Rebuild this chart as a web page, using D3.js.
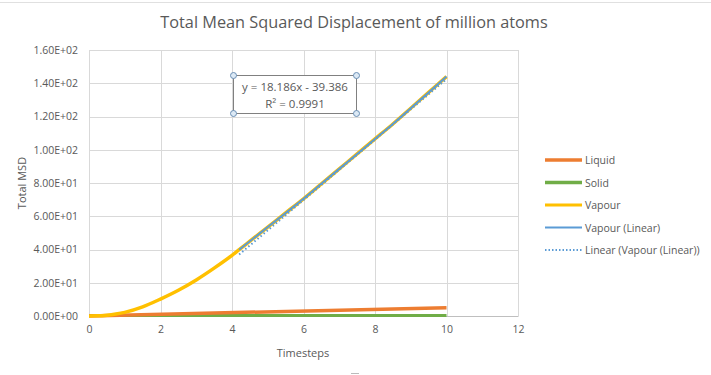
<!DOCTYPE html>
<html><head><meta charset="utf-8">
<script src="https://cdn.jsdelivr.net/npm/d3@7/dist/d3.min.js"></script>
<style>body{margin:0;background:#fff}svg{display:block;font-family:"Open Sans","Noto Sans",sans-serif}</style>
</head><body><svg id="c" width="711" height="375"></svg>
<script>
const title = "Total Mean Squared Displacement of million atoms";
const xTicks = [0,2,4,6,8,10,12];
const yTicks = [0,20,40,60,80,100,120,140,160];
const vapourX = [0,0.25,0.5,0.75,1,1.5,2,2.5,3,3.5,4,4.2,4.5,5,5.5,6,6.5,7,7.5,8,8.5,9,9.5,10];
const vapourY = [0,0.1,0.5,1.2,2.2,5.5,10.2,15.5,21.7,28.8,36.5,39.9,45,53.5,62,70.5,79.5,88.5,97.5,106.5,115.5,125,134.5,144];
const vapLinX = [4.2,4.5,5,5.5,6,6.5,7,7.5,8,8.5,9,9.5,10];
const vapLinY = [39.9,45,53.5,62,70.5,79.5,88.5,97.5,106.5,115.5,125,134.5,144];
const liquidX = [0,10];
const liquidY = [0,5.0];
const solidX = [0,10];
const solidY = [0.3,0.3];
const trendSlope = 18.186, trendIntercept = -39.386, trendR2 = 0.9991;
const trendRange = [4.2,10];
const legendNames = ["Liquid","Solid","Vapour","Vapour (Linear)","Linear (Vapour (Linear))"];

const svg = d3.select("#c");
const x = d3.scaleLinear().domain([0,12]).range([89,518]);
const y = d3.scaleLinear().domain([0,160]).range([316,50]);
const grid = "#d9d9d9", txt = "#595959";

// top border
svg.append("line").attr("x1",0).attr("x2",711).attr("y1",2.5).attr("y2",2.5).attr("stroke","#e0e0e0");

// gridlines
svg.append("g").selectAll("line").data(yTicks).join("line")
  .attr("x1",x(0)).attr("x2",x(12)).attr("y1",d=>Math.round(y(d))+0.5).attr("y2",d=>Math.round(y(d))+0.5)
  .attr("stroke",grid).attr("stroke-width",1);
svg.append("g").selectAll("line").data(xTicks).join("line")
  .attr("y1",y(0)).attr("y2",y(160)).attr("x1",d=>Math.round(x(d))+0.5).attr("x2",d=>Math.round(x(d))+0.5)
  .attr("stroke",grid).attr("stroke-width",1);

// axes tick labels via d3 axes
const fmt = d=> d===0 ? "0.00E+00" : (d/Math.pow(10,Math.floor(Math.log10(d)))).toFixed(2)+"E+"+String(Math.floor(Math.log10(d))).padStart(2,"0");
const ya = svg.append("g").attr("transform",`translate(${x(0)},0)`)
  .call(d3.axisLeft(y).tickValues(yTicks).tickFormat(fmt).tickSize(0).tickPadding(11));
ya.select(".domain").remove();
ya.selectAll("text").attr("fill",txt).style("font-size","10.5px").style("font-family","'Open Sans',sans-serif");
const xa = svg.append("g").attr("transform",`translate(0,${y(0)})`)
  .call(d3.axisBottom(x).tickValues(xTicks).tickFormat(d3.format("d")).tickSize(0).tickPadding(10));
xa.select(".domain").attr("stroke","#bfbfbf");
xa.selectAll("text").attr("fill",txt).style("font-size","10.5px").style("font-family","'Open Sans',sans-serif");

// titles
svg.append("text").attr("x",354).attr("y",28).attr("text-anchor","middle").attr("fill",txt)
  .style("font-size","16.3px").text(title);
svg.append("text").attr("x",303).attr("y",357).attr("text-anchor","middle").attr("fill",txt)
  .style("font-size","11px").text("Timesteps");
svg.append("text").attr("transform","translate(26,183) rotate(-90)").attr("text-anchor","middle").attr("fill",txt)
  .style("font-size","11px").text("Total MSD");

// series
const line = d3.line().x(d=>x(d[0])).y(d=>y(d[1]));
const zip = (a,b)=>a.map((v,i)=>[v,b[i]]);
svg.append("path").datum(zip(solidX,solidY)).attr("d",line).attr("fill","none").attr("stroke","#70AD47").attr("stroke-width",3);
svg.append("path").datum(zip(liquidX,liquidY)).attr("d",line).attr("fill","none").attr("stroke","#ED7D31").attr("stroke-width",3.5);
svg.append("path").datum(zip(vapourX,vapourY)).attr("d",d3.line().curve(d3.curveMonotoneX).x(d=>x(d[0])).y(d=>y(d[1])))
  .attr("fill","none").attr("stroke","#FFC000").attr("stroke-width",3.5);
svg.append("path").datum(zip(vapLinX,vapLinY)).attr("d",d3.line().curve(d3.curveMonotoneX).x(d=>x(d[0])).y(d=>y(d[1])))
  .attr("fill","none").attr("stroke","#5B9BD5").attr("stroke-width",2);
svg.append("path").datum(trendRange.map(t=>[t,trendSlope*t+trendIntercept])).attr("d",line)
  .attr("fill","none").attr("stroke","#5B9BD5").attr("stroke-width",2).attr("stroke-dasharray","1.5,2.5");

// equation box
const bx=233.5, by=75.5, bw=123, bh=38;
svg.append("rect").attr("x",bx).attr("y",by).attr("width",bw).attr("height",bh).attr("fill","#fff").attr("stroke","#808080");
svg.append("text").attr("x",bx+bw/2).attr("y",by+15).attr("text-anchor","middle").attr("fill",txt).style("font-size","11.5px")
  .text(`y = ${trendSlope}x - ${Math.abs(trendIntercept)}`);
svg.append("text").attr("x",bx+bw/2).attr("y",by+32).attr("text-anchor","middle").attr("fill",txt).style("font-size","11.5px")
  .text(`R² = ${trendR2}`);
svg.append("g").selectAll("circle").data([[bx,by],[bx+bw,by],[bx,by+bh],[bx+bw,by+bh]]).join("circle")
  .attr("cx",d=>d[0]).attr("cy",d=>d[1]).attr("r",3).attr("fill","#dce9f5").attr("stroke","#6a8fb5").attr("stroke-width",1);

// legend
const lg = [{c:"#ED7D31",w:3.5},{c:"#70AD47",w:3.5},{c:"#FFC000",w:3},{c:"#5B9BD5",w:2},{c:"#5B9BD5",w:2,dash:"1.5,2"}];
const leg = svg.append("g").selectAll("g").data(legendNames).join("g")
  .attr("transform",(d,i)=>`translate(545,${160+i*22.5})`);
leg.append("line").attr("x1",0).attr("x2",37).attr("y1",0).attr("y2",0)
  .attr("stroke",(d,i)=>lg[i].c).attr("stroke-width",(d,i)=>lg[i].w).attr("stroke-dasharray",(d,i)=>lg[i].dash||null);
leg.append("text").attr("x",40).attr("y",4).attr("fill",txt).style("font-size","10.5px").text(d=>d);

// bottom handle
svg.append("line").attr("x1",351).attr("x2",359).attr("y1",373.5).attr("y2",373.5).attr("stroke","#bbb");
</script></body></html>
